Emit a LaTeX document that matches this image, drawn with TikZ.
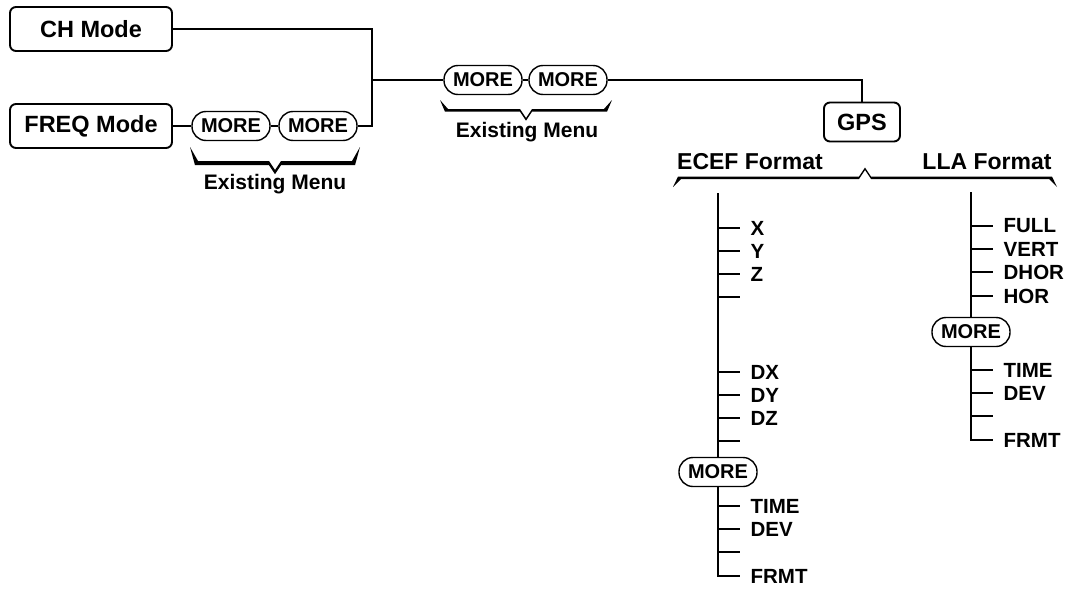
\documentclass[tikz,border=0pt]{standalone}
\usepackage{fontspec}
\setmainfont{Liberation Sans}
% curly "existing menu" brace: left x, right x, end y, bar offset, tip offset
\newcommand{\menubrace}[5]{%
  \fill ({#1},{#3}) -- ({#1+8},{#3+#4}) -- ({(#1+#2)/2-6},{#3+#4})
    -- ({(#1+#2)/2},{#3+#5}) -- ({(#1+#2)/2+6},{#3+#4}) -- ({#2-8},{#3+#4})
    -- ({#2},{#3}) -- ({#2-5},{#3+1.3*#4}) -- ({(#1+#2)/2+6},{#3+1.3*#4})
    -- ({(#1+#2)/2},{#3+#5+0.3*#4}) -- ({(#1+#2)/2-6},{#3+1.3*#4})
    -- ({#1+5},{#3+1.3*#4}) -- cycle;}

\begin{document}
\begin{tikzpicture}[x=1pt, y=-1pt, line width=1.3pt,
    modebox/.style={draw, line width=1.9pt, rounded corners=6pt, minimum width=162pt,
      minimum height=44pt, font=\bfseries\fontsize{23.5}{25}\selectfont},
    morekey/.style={draw, fill=white, line width=1.4pt, rounded corners=14pt,
      minimum height=29pt, minimum width=78pt, inner sep=0pt,
      font=\bfseries\fontsize{20}{22}\selectfont},
    menutag/.style={font=\bfseries\fontsize{21}{23}\selectfont},
    fmttag/.style={font=\bfseries\fontsize{23}{25}\selectfont},
    fieldlbl/.style={anchor=west, xshift=10pt, inner sep=0pt,
      font=\bfseries\fontsize{20.5}{22}\selectfont}]
  \useasboundingbox (0,0) rectangle (1066,589);

  % mode keys and the existing menus
  \node[modebox] (ch) at (91,29) {CH Mode};
  \node[modebox] (freq) at (91,126) {FREQ Mode};
  \node[morekey] (fmore1) at (231,126) {MORE};
  \node[morekey] (fmore2) at (318,126) {MORE};
  \coordinate (join) at (372,80);
  \node[morekey] (mmore1) at (483,80) {MORE};
  \node[morekey] (mmore2) at (568,80) {MORE};
  \node[modebox, minimum width=76pt, minimum height=39pt] (gps) at (862,122) {GPS};

  \draw (ch.east) -| (join) |- (fmore2.east);
  \draw (freq.east) -- (fmore1.west);
  \draw (fmore1.east) -- (fmore2.west);
  \draw (join) -- (mmore1.west);
  \draw (mmore1.east) -- (mmore2.west);
  \draw (mmore2.east) -| (gps.north);

  \menubrace{190}{360}{147}{14}{23}
  \node[menutag] (fmenu) at (275,184) {Existing Menu};
  \menubrace{440}{612}{100}{9}{18}
  \node[menutag] (mmenu) at (527,132) {Existing Menu};

  % GPS formats
  \node[fmttag] (ecef) at (750,162) {ECEF Format};
  \node[fmttag] (lla) at (987,162) {LLA Format};
  \menubrace{673}{1057}{187}{-8}{-17}

  % ECEF softkeys
  \coordinate (etop) at (718,193);
  \node[morekey] (emore) at (718,472) {MORE};
  \coordinate (ebot) at (718,576);
  \draw (etop) -- (emore.north);
  \draw (emore.south) -- (ebot) -- ++(22,0) node[fieldlbl] (efrmt) {FRMT};
  \foreach \y/\lbl [count=\i] in {228/X, 251/Y, 274/Z, 297/{}, 372/DX, 395/DY,
      418/DZ, 441/{}, 506/TIME, 529/DEV, 552/{}}
    \draw (718,\y) -- ++(22,0) node[fieldlbl] (ekey\i) {\lbl};

  % LLA softkeys
  \coordinate (ltop) at (971,192);
  \node[morekey] (lmore) at (971,332) {MORE};
  \coordinate (lbot) at (971,440);
  \draw (ltop) -- (lmore.north);
  \draw (lmore.south) -- (lbot) -- ++(22,0) node[fieldlbl] (lfrmt) {FRMT};
  \foreach \y/\lbl [count=\i] in {226/FULL, 249/VERT, 272/DHOR, 296/HOR,
      370/TIME, 393/DEV, 416/{}}
    \draw (971,\y) -- ++(22,0) node[fieldlbl] (lkey\i) {\lbl};
\end{tikzpicture}
\end{document}
